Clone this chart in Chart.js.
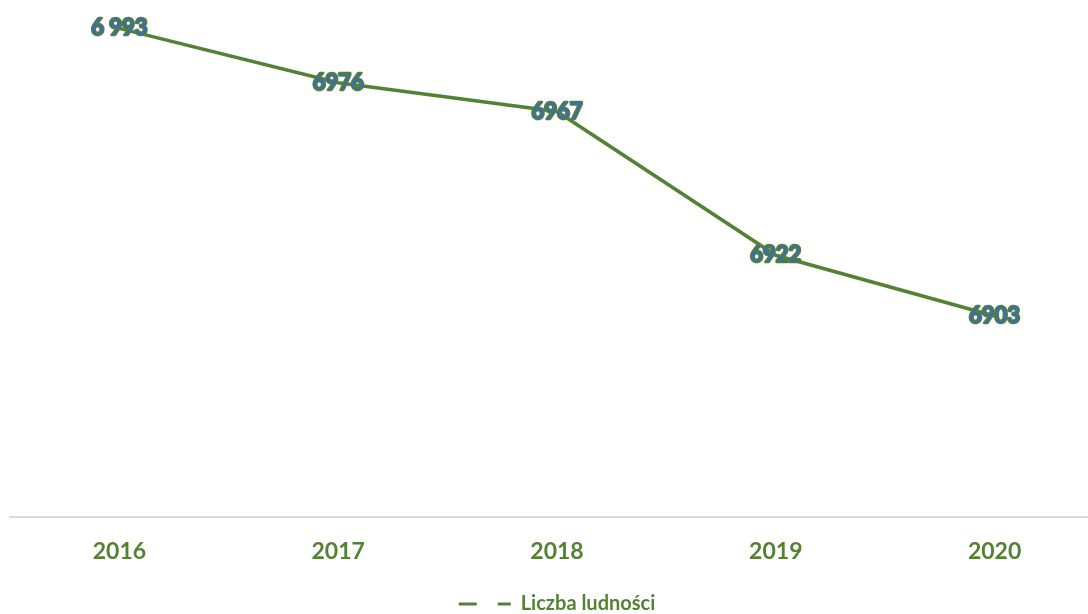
<!DOCTYPE html>
<html>
<head>
<meta charset="utf-8">
<script src="https://cdn.jsdelivr.net/npm/chart.js@4.4.1/dist/chart.umd.min.js"></script>
<style>
  html, body { margin: 0; padding: 0; background: #fff; overflow: hidden; }
  #wrap { width: 1110px; height: 614px; position: relative; }
</style>
</head>
<body>
<div id="wrap"><canvas id="myChart"></canvas></div>
<script>
const years = ['2016', '2017', '2018', '2019', '2020'];
const population = [6993, 6976, 6967, 6922, 6903];
const pointLabels = ['6 993', '6976', '6967', '6922', '6903'];
const seriesName = 'Liczba ludności';

const green = '#548235';

// etykiety danych na punktach
const valueLabels = {
  id: 'valueLabels',
  afterDatasetsDraw(chart) {
    const ctx = chart.ctx;
    const meta = chart.getDatasetMeta(0);
    ctx.save();
    ctx.font = 'bold 22px Lato';
    ctx.textAlign = 'center';
    ctx.textBaseline = 'middle';
    ctx.lineJoin = 'round';
    meta.data.forEach((pt, i) => {
      ctx.lineWidth = 2.5;
      ctx.strokeStyle = green;
      ctx.strokeText(pointLabels[i], pt.x, pt.y);
      ctx.fillStyle = '#3f6fa0';
      ctx.fillText(pointLabels[i], pt.x, pt.y);
    });
    ctx.restore();
  }
};

const ctx = document.getElementById('myChart').getContext('2d');
new Chart(ctx, {
  type: 'line',
  data: {
    labels: years,
    datasets: [{
      label: seriesName,
      data: population,
      borderColor: green,
      backgroundColor: green,
      borderWidth: 3.5,
      pointRadius: 0,
      tension: 0
    }]
  },
  options: {
    responsive: true,
    maintainAspectRatio: false,
    animation: false,
    layout: { padding: { left: 10, right: 6, top: 6, bottom: -10 } },
    plugins: {
      tooltip: { enabled: false },
      legend: {
        position: 'bottom',
        labels: {
          usePointStyle: true,
          pointStyleWidth: 52,
          boxHeight: 10,
          padding: 4,
          color: green,
          font: { family: 'Lato', weight: 'bold', size: 20 },
          generateLabels: () => [{
            text: seriesName,
            pointStyle: 'line',
            strokeStyle: green,
            fillStyle: green,
            lineWidth: 3,
            lineDash: [18, 21],
            fontColor: green
          }]
        }
      }
    },
    scales: {
      x: {
        offset: true,
        grid: { display: false, drawTicks: false },
        border: { display: true, color: '#d9d9d9', width: 2 },
        ticks: {
          color: green,
          padding: 20,
          font: { family: 'Lato', weight: 'bold', size: 23 }
        },
        afterFit(scale) { scale.height += 5; }
      },
      y: {
        display: false,
        min: 6840,
        max: 7000
      }
    }
  },
  plugins: [valueLabels]
});
</script>
</body>
</html>
